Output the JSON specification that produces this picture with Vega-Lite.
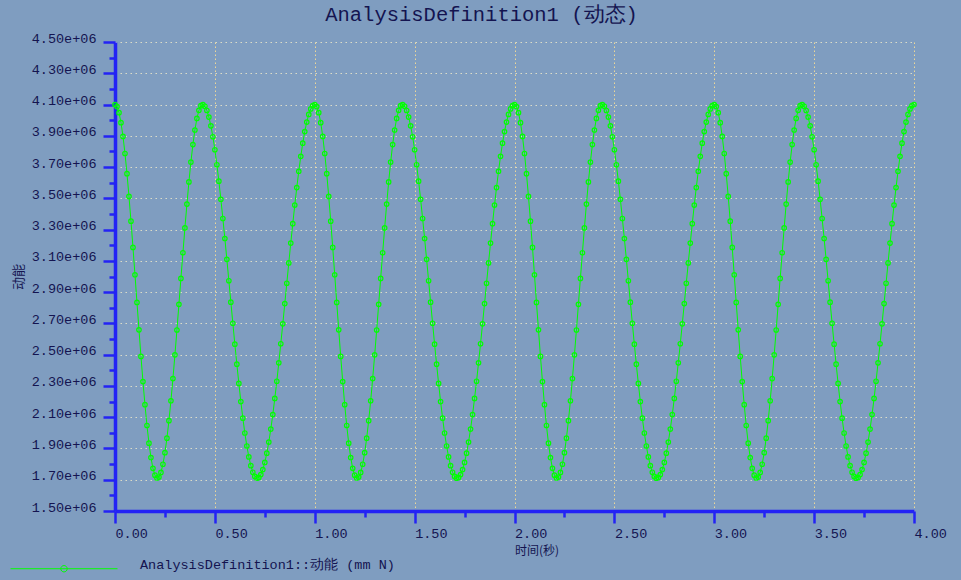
{
  "$schema": "https://vega.github.io/schema/vega-lite/v6.json",
  "width": 799,
  "height": 469,
  "autosize": {"type": "none"},
  "padding": {"left": 115, "top": 42, "right": 47, "bottom": 69},
  "background": "#7f9dc0",
  "title": {
    "text": "AnalysisDefinition1 (动态)",
    "font": "Liberation Mono",
    "fontSize": 20.5,
    "fontWeight": "normal",
    "color": "#141450",
    "anchor": "middle",
    "dx": -33,
    "offset": 6
  },
  "config": {
    "view": {"stroke": null},
    "axis": {
      "labelFont": "Liberation Mono",
      "labelFontSize": 13.5,
      "labelColor": "#141450",
      "domainColor": "#2323f5",
      "domainWidth": 3.5,
      "tickColor": "#2323f5",
      "tickWidth": 2.5,
      "labelOverlap": false,
      "labelFlush": false,
      "titleColor": "#141450",
      "titleFontWeight": "normal",
      "titleFont": "Noto Sans CJK SC"
    }
  },
  "data": {
    "values": [
      {"t":0,"e":4.100},{"t":0.01,"e":4.087},{"t":0.02,"e":4.048},{"t":0.03,"e":3.984},{"t":0.04,"e":3.896},{"t":0.05,"e":3.787},{"t":0.06,"e":3.658},{"t":0.07,"e":3.512},{"t":0.08,"e":3.354},{"t":0.09,"e":3.186},
      {"t":0.1,"e":3.011},{"t":0.11,"e":2.834},{"t":0.12,"e":2.659},{"t":0.13,"e":2.489},{"t":0.14,"e":2.328},{"t":0.15,"e":2.180},{"t":0.16,"e":2.047},{"t":0.17,"e":1.934},{"t":0.18,"e":1.842},{"t":0.19,"e":1.773},
      {"t":0.2,"e":1.729},{"t":0.21,"e":1.711},{"t":0.22,"e":1.717},{"t":0.23,"e":1.747},{"t":0.24,"e":1.799},{"t":0.25,"e":1.873},{"t":0.26,"e":1.966},{"t":0.27,"e":2.078},{"t":0.28,"e":2.205},{"t":0.29,"e":2.347},
      {"t":0.3,"e":2.499},{"t":0.31,"e":2.658},{"t":0.32,"e":2.822},{"t":0.33,"e":2.988},{"t":0.34,"e":3.152},{"t":0.35,"e":3.311},{"t":0.36,"e":3.463},{"t":0.37,"e":3.605},{"t":0.38,"e":3.732},{"t":0.39,"e":3.844},
      {"t":0.4,"e":3.937},{"t":0.41,"e":4.011},{"t":0.42,"e":4.063},{"t":0.43,"e":4.093},{"t":0.44,"e":4.100},{"t":0.45,"e":4.089},{"t":0.46,"e":4.062},{"t":0.47,"e":4.020},{"t":0.48,"e":3.964},{"t":0.49,"e":3.894},
      {"t":0.5,"e":3.811},{"t":0.51,"e":3.715},{"t":0.52,"e":3.610},{"t":0.53,"e":3.494},{"t":0.54,"e":3.371},{"t":0.55,"e":3.243},{"t":0.56,"e":3.110},{"t":0.57,"e":2.973},{"t":0.58,"e":2.836},{"t":0.59,"e":2.701},
      {"t":0.6,"e":2.567},{"t":0.61,"e":2.439},{"t":0.62,"e":2.316},{"t":0.63,"e":2.200},{"t":0.64,"e":2.094},{"t":0.65,"e":1.999},{"t":0.66,"e":1.916},{"t":0.67,"e":1.846},{"t":0.68,"e":1.790},{"t":0.69,"e":1.748},
      {"t":0.7,"e":1.721},{"t":0.71,"e":1.710},{"t":0.72,"e":1.715},{"t":0.73,"e":1.733},{"t":0.74,"e":1.765},{"t":0.75,"e":1.811},{"t":0.76,"e":1.870},{"t":0.77,"e":1.941},{"t":0.78,"e":2.024},{"t":0.79,"e":2.117},
      {"t":0.8,"e":2.220},{"t":0.81,"e":2.330},{"t":0.82,"e":2.448},{"t":0.83,"e":2.570},{"t":0.84,"e":2.697},{"t":0.85,"e":2.827},{"t":0.86,"e":2.957},{"t":0.87,"e":3.087},{"t":0.88,"e":3.214},{"t":0.89,"e":3.338},
      {"t":0.9,"e":3.457},{"t":0.91,"e":3.569},{"t":0.92,"e":3.673},{"t":0.93,"e":3.769},{"t":0.94,"e":3.853},{"t":0.95,"e":3.927},{"t":0.96,"e":3.988},{"t":0.97,"e":4.037},{"t":0.98,"e":4.072},{"t":0.99,"e":4.093},
      {"t":1,"e":4.100},{"t":1.01,"e":4.087},{"t":1.02,"e":4.048},{"t":1.03,"e":3.984},{"t":1.04,"e":3.896},{"t":1.05,"e":3.787},{"t":1.06,"e":3.658},{"t":1.07,"e":3.512},{"t":1.08,"e":3.354},{"t":1.09,"e":3.186},
      {"t":1.1,"e":3.011},{"t":1.11,"e":2.834},{"t":1.12,"e":2.659},{"t":1.13,"e":2.489},{"t":1.14,"e":2.328},{"t":1.15,"e":2.180},{"t":1.16,"e":2.047},{"t":1.17,"e":1.934},{"t":1.18,"e":1.842},{"t":1.19,"e":1.773},
      {"t":1.2,"e":1.729},{"t":1.21,"e":1.711},{"t":1.22,"e":1.717},{"t":1.23,"e":1.747},{"t":1.24,"e":1.799},{"t":1.25,"e":1.873},{"t":1.26,"e":1.966},{"t":1.27,"e":2.078},{"t":1.28,"e":2.205},{"t":1.29,"e":2.347},
      {"t":1.3,"e":2.499},{"t":1.31,"e":2.658},{"t":1.32,"e":2.822},{"t":1.33,"e":2.988},{"t":1.34,"e":3.152},{"t":1.35,"e":3.311},{"t":1.36,"e":3.463},{"t":1.37,"e":3.605},{"t":1.38,"e":3.732},{"t":1.39,"e":3.844},
      {"t":1.4,"e":3.937},{"t":1.41,"e":4.011},{"t":1.42,"e":4.063},{"t":1.43,"e":4.093},{"t":1.44,"e":4.100},{"t":1.45,"e":4.089},{"t":1.46,"e":4.062},{"t":1.47,"e":4.020},{"t":1.48,"e":3.964},{"t":1.49,"e":3.894},
      {"t":1.5,"e":3.811},{"t":1.51,"e":3.715},{"t":1.52,"e":3.610},{"t":1.53,"e":3.494},{"t":1.54,"e":3.371},{"t":1.55,"e":3.243},{"t":1.56,"e":3.110},{"t":1.57,"e":2.973},{"t":1.58,"e":2.836},{"t":1.59,"e":2.701},
      {"t":1.6,"e":2.567},{"t":1.61,"e":2.439},{"t":1.62,"e":2.316},{"t":1.63,"e":2.200},{"t":1.64,"e":2.094},{"t":1.65,"e":1.999},{"t":1.66,"e":1.916},{"t":1.67,"e":1.846},{"t":1.68,"e":1.790},{"t":1.69,"e":1.748},
      {"t":1.7,"e":1.721},{"t":1.71,"e":1.710},{"t":1.72,"e":1.715},{"t":1.73,"e":1.733},{"t":1.74,"e":1.765},{"t":1.75,"e":1.811},{"t":1.76,"e":1.870},{"t":1.77,"e":1.941},{"t":1.78,"e":2.024},{"t":1.79,"e":2.117},
      {"t":1.8,"e":2.220},{"t":1.81,"e":2.330},{"t":1.82,"e":2.448},{"t":1.83,"e":2.570},{"t":1.84,"e":2.697},{"t":1.85,"e":2.827},{"t":1.86,"e":2.957},{"t":1.87,"e":3.087},{"t":1.88,"e":3.214},{"t":1.89,"e":3.338},
      {"t":1.9,"e":3.457},{"t":1.91,"e":3.569},{"t":1.92,"e":3.673},{"t":1.93,"e":3.769},{"t":1.94,"e":3.853},{"t":1.95,"e":3.927},{"t":1.96,"e":3.988},{"t":1.97,"e":4.037},{"t":1.98,"e":4.072},{"t":1.99,"e":4.093},
      {"t":2,"e":4.100},{"t":2.01,"e":4.087},{"t":2.02,"e":4.048},{"t":2.03,"e":3.984},{"t":2.04,"e":3.896},{"t":2.05,"e":3.787},{"t":2.06,"e":3.658},{"t":2.07,"e":3.512},{"t":2.08,"e":3.354},{"t":2.09,"e":3.186},
      {"t":2.1,"e":3.011},{"t":2.11,"e":2.834},{"t":2.12,"e":2.659},{"t":2.13,"e":2.489},{"t":2.14,"e":2.328},{"t":2.15,"e":2.180},{"t":2.16,"e":2.047},{"t":2.17,"e":1.934},{"t":2.18,"e":1.842},{"t":2.19,"e":1.773},
      {"t":2.2,"e":1.729},{"t":2.21,"e":1.711},{"t":2.22,"e":1.717},{"t":2.23,"e":1.747},{"t":2.24,"e":1.799},{"t":2.25,"e":1.873},{"t":2.26,"e":1.966},{"t":2.27,"e":2.078},{"t":2.28,"e":2.205},{"t":2.29,"e":2.347},
      {"t":2.3,"e":2.499},{"t":2.31,"e":2.658},{"t":2.32,"e":2.822},{"t":2.33,"e":2.988},{"t":2.34,"e":3.152},{"t":2.35,"e":3.311},{"t":2.36,"e":3.463},{"t":2.37,"e":3.605},{"t":2.38,"e":3.732},{"t":2.39,"e":3.844},
      {"t":2.4,"e":3.937},{"t":2.41,"e":4.011},{"t":2.42,"e":4.063},{"t":2.43,"e":4.093},{"t":2.44,"e":4.100},{"t":2.45,"e":4.089},{"t":2.46,"e":4.062},{"t":2.47,"e":4.020},{"t":2.48,"e":3.964},{"t":2.49,"e":3.894},
      {"t":2.5,"e":3.811},{"t":2.51,"e":3.715},{"t":2.52,"e":3.610},{"t":2.53,"e":3.494},{"t":2.54,"e":3.371},{"t":2.55,"e":3.243},{"t":2.56,"e":3.110},{"t":2.57,"e":2.973},{"t":2.58,"e":2.836},{"t":2.59,"e":2.701},
      {"t":2.6,"e":2.567},{"t":2.61,"e":2.439},{"t":2.62,"e":2.316},{"t":2.63,"e":2.200},{"t":2.64,"e":2.094},{"t":2.65,"e":1.999},{"t":2.66,"e":1.916},{"t":2.67,"e":1.846},{"t":2.68,"e":1.790},{"t":2.69,"e":1.748},
      {"t":2.7,"e":1.721},{"t":2.71,"e":1.710},{"t":2.72,"e":1.715},{"t":2.73,"e":1.733},{"t":2.74,"e":1.765},{"t":2.75,"e":1.811},{"t":2.76,"e":1.870},{"t":2.77,"e":1.941},{"t":2.78,"e":2.024},{"t":2.79,"e":2.117},
      {"t":2.8,"e":2.220},{"t":2.81,"e":2.330},{"t":2.82,"e":2.448},{"t":2.83,"e":2.570},{"t":2.84,"e":2.697},{"t":2.85,"e":2.827},{"t":2.86,"e":2.957},{"t":2.87,"e":3.087},{"t":2.88,"e":3.214},{"t":2.89,"e":3.338},
      {"t":2.9,"e":3.457},{"t":2.91,"e":3.569},{"t":2.92,"e":3.673},{"t":2.93,"e":3.769},{"t":2.94,"e":3.853},{"t":2.95,"e":3.927},{"t":2.96,"e":3.988},{"t":2.97,"e":4.037},{"t":2.98,"e":4.072},{"t":2.99,"e":4.093},
      {"t":3,"e":4.100},{"t":3.01,"e":4.087},{"t":3.02,"e":4.048},{"t":3.03,"e":3.984},{"t":3.04,"e":3.896},{"t":3.05,"e":3.787},{"t":3.06,"e":3.658},{"t":3.07,"e":3.512},{"t":3.08,"e":3.354},{"t":3.09,"e":3.186},
      {"t":3.1,"e":3.011},{"t":3.11,"e":2.834},{"t":3.12,"e":2.659},{"t":3.13,"e":2.489},{"t":3.14,"e":2.328},{"t":3.15,"e":2.180},{"t":3.16,"e":2.047},{"t":3.17,"e":1.934},{"t":3.18,"e":1.842},{"t":3.19,"e":1.773},
      {"t":3.2,"e":1.729},{"t":3.21,"e":1.711},{"t":3.22,"e":1.717},{"t":3.23,"e":1.747},{"t":3.24,"e":1.799},{"t":3.25,"e":1.873},{"t":3.26,"e":1.966},{"t":3.27,"e":2.078},{"t":3.28,"e":2.205},{"t":3.29,"e":2.347},
      {"t":3.3,"e":2.499},{"t":3.31,"e":2.658},{"t":3.32,"e":2.822},{"t":3.33,"e":2.988},{"t":3.34,"e":3.152},{"t":3.35,"e":3.311},{"t":3.36,"e":3.463},{"t":3.37,"e":3.605},{"t":3.38,"e":3.732},{"t":3.39,"e":3.844},
      {"t":3.4,"e":3.937},{"t":3.41,"e":4.011},{"t":3.42,"e":4.063},{"t":3.43,"e":4.093},{"t":3.44,"e":4.100},{"t":3.45,"e":4.089},{"t":3.46,"e":4.062},{"t":3.47,"e":4.020},{"t":3.48,"e":3.964},{"t":3.49,"e":3.894},
      {"t":3.5,"e":3.811},{"t":3.51,"e":3.715},{"t":3.52,"e":3.610},{"t":3.53,"e":3.494},{"t":3.54,"e":3.371},{"t":3.55,"e":3.243},{"t":3.56,"e":3.110},{"t":3.57,"e":2.973},{"t":3.58,"e":2.836},{"t":3.59,"e":2.701},
      {"t":3.6,"e":2.567},{"t":3.61,"e":2.439},{"t":3.62,"e":2.316},{"t":3.63,"e":2.200},{"t":3.64,"e":2.094},{"t":3.65,"e":1.999},{"t":3.66,"e":1.916},{"t":3.67,"e":1.846},{"t":3.68,"e":1.790},{"t":3.69,"e":1.748},
      {"t":3.7,"e":1.721},{"t":3.71,"e":1.710},{"t":3.72,"e":1.715},{"t":3.73,"e":1.733},{"t":3.74,"e":1.765},{"t":3.75,"e":1.811},{"t":3.76,"e":1.870},{"t":3.77,"e":1.941},{"t":3.78,"e":2.024},{"t":3.79,"e":2.117},
      {"t":3.8,"e":2.220},{"t":3.81,"e":2.330},{"t":3.82,"e":2.448},{"t":3.83,"e":2.570},{"t":3.84,"e":2.697},{"t":3.85,"e":2.827},{"t":3.86,"e":2.957},{"t":3.87,"e":3.087},{"t":3.88,"e":3.214},{"t":3.89,"e":3.338},
      {"t":3.9,"e":3.457},{"t":3.91,"e":3.569},{"t":3.92,"e":3.673},{"t":3.93,"e":3.769},{"t":3.94,"e":3.853},{"t":3.95,"e":3.927},{"t":3.96,"e":3.988},{"t":3.97,"e":4.037},{"t":3.98,"e":4.072},{"t":3.99,"e":4.093},
      {"t":4,"e":4.100}
    ]
  },
  "mark": {
    "type": "line",
    "strokeWidth": 1,
    "point": {"filled": false, "shape": "circle", "size": 20, "strokeWidth": 1.2}
  },
  "encoding": {
    "x": {
      "field": "t",
      "type": "quantitative",
      "scale": {"domain": [0, 4], "nice": false, "zero": false},
      "axis": {
        "values": [0, 0.25, 0.5, 0.75, 1, 1.25, 1.5, 1.75, 2, 2.25, 2.5, 2.75, 3, 3.25, 3.5, 3.75, 4],
        "labelExpr": "round(datum.value*4)%2==0 ? format(datum.value,'.2f') : ''",
        "tickSize": {"condition": {"test": "round(datum.value*4)%2==0", "value": 12}, "value": 6},
        "gridOpacity": {"condition": {"test": "round(datum.value*4)%2==0", "value": 1}, "value": 0},
        "grid": true,
        "gridColor": "#efd898",
        "gridDash": [1.5, 2.5],
        "gridWidth": 1,
        "labelAlign": "left",
        "labelDx": -2,
        "labelPadding": 3,
        "title": "时间(秒)",
        "titleFontSize": 12,
        "titleAnchor": "middle",
        "titleAlign": "left",
        "titlePadding": 6
      }
    },
    "y": {
      "field": "e",
      "type": "quantitative",
      "scale": {"domain": [1.5, 4.5], "nice": false, "zero": false},
      "axis": {
        "values": [1.5, 1.6, 1.7, 1.8, 1.9, 2.0, 2.1, 2.2, 2.3, 2.4, 2.5, 2.6, 2.7, 2.8, 2.9, 3.0, 3.1, 3.2, 3.3, 3.4, 3.5, 3.6, 3.7, 3.8, 3.9, 4.0, 4.1, 4.2, 4.3, 4.4, 4.5],
        "labelExpr": "round(datum.value*10)%2==1 ? format(datum.value,'.2f')+'e+06' : ''",
        "tickSize": {"condition": {"test": "round(datum.value*10)%2==1", "value": 12}, "value": 6},
        "gridOpacity": {"condition": {"test": "round(datum.value*10)%2==1", "value": 1}, "value": 0},
        "grid": true,
        "gridColor": "#dcdcc8",
        "gridDash": [1.5, 3.5],
        "gridWidth": 1,
        "labelBaseline": "alphabetic",
        "labelDy": 1,
        "labelPadding": 7,
        "title": "动能",
        "titleFontSize": 13,
        "titlePadding": 6
      }
    },
    "color": {
      "datum": "AnalysisDefinition1::动能 (mm N)",
      "scale": {"range": ["#00ff00"]},
      "legend": {
        "orient": "none",
        "legendX": -105,
        "legendY": 469,
        "title": null,
        "padding": 0,
        "symbolType": "M-1,0.07H1M-0.06,0.07A0.06,0.06 0 1,1 0.06,0.07A0.06,0.06 0 1,1 -0.06,0.07",
        "symbolSize": 11449,
        "symbolStrokeColor": "#00ff00",
        "symbolFillColor": "transparent",
        "symbolStrokeWidth": 1,
        "labelFont": "Liberation Mono",
        "labelFontSize": 13.5,
        "labelColor": "#141450",
        "labelOffset": 22,
        "labelLimit": 0
      }
    }
  }
}
